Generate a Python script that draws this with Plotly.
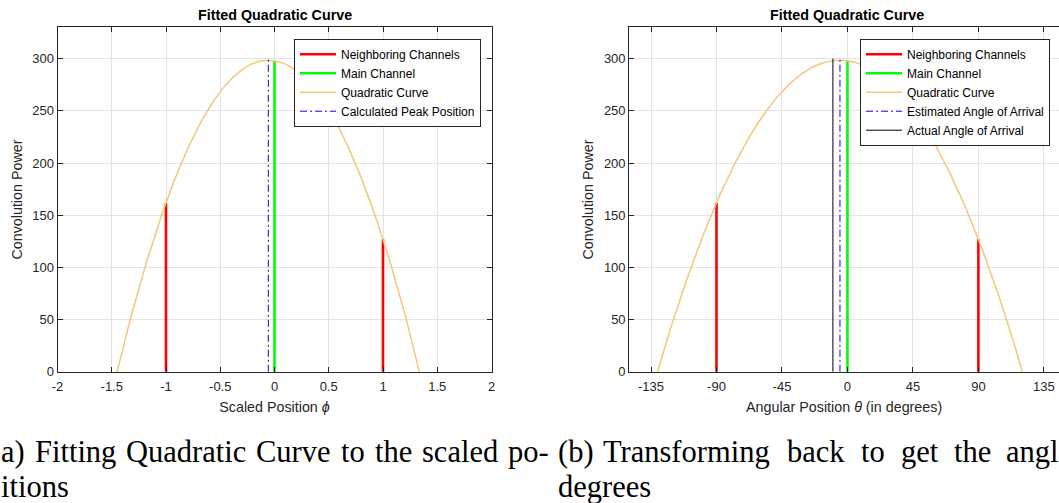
import numpy as np
import plotly.graph_objects as go

# ---- data ----
neighbor_phi = [-1, 1]
neighbor_power = [162, 127]
main_phi = [0]
main_power = [298]
marker_top = 300            # height of the peak / angle marker lines
actual_angle_deg = -10      # actual angle of arrival
deg_per_unit = 90           # scaled position -> degrees

x_ticks_a = [-2, -1.5, -1, -0.5, 0, 0.5, 1, 1.5, 2]
x_ticks_b = [-135, -90, -45, 0, 45, 90, 135]
y_ticks = [0, 50, 100, 150, 200, 250, 300]

# caption words (as visible in the reference)
caption_a1 = ["a)", "Fitting", "Quadratic", "Curve", "to", "the", "scaled", "po-"]
caption_a2 = ["itions"]
caption_b1 = ["(b)", "Transforming", "back", "to", "get", "the", "angl"]
caption_b2 = ["degrees"]
# left edges (px) for the justified caption words
caption_a1_x = [0, 33.7, 125.1, 255.4, 339.9, 373.6, 420.9, 507.1]
caption_a2_x = [0]
caption_b1_x = [557, 601.6, 785.6, 859.5, 899.5, 953.1, 1005]
caption_b2_x = [557]

# fitted quadratic through the three channel powers
pts_x = neighbor_phi[:1] + main_phi + neighbor_phi[1:]
pts_y = neighbor_power[:1] + main_power + neighbor_power[1:]
coef = np.polyfit(pts_x, pts_y, 2)
peak_phi = -coef[1] / (2 * coef[0])
curve_phi = np.linspace(-2, 2, 401)
curve_power = np.polyval(coef, curve_phi)

W, H = 1059, 503
FONT = "Liberation Sans, Arial, Helvetica, sans-serif"
AXC = "#262626"
GRID = "#e3e3e3"
RED = "#ff0000"
GREEN = "#00ff00"
CURVE = "#f4c778"
BLUE = "#0000ff"

def px(v):
    return v / W

def py(v):
    return (H - v) / H

fig = go.Figure()

def add_set(xs_scale, xa, ya, legend, peak_name, with_actual):
    nx = [v * xs_scale for v in neighbor_phi]
    fig.add_trace(go.Scatter(
        x=[nx[0], nx[0], None, nx[1], nx[1]],
        y=[0, neighbor_power[0], None, 0, neighbor_power[1]],
        mode="lines", line=dict(color=RED, width=2.6),
        name="Neighboring Channels", xaxis=xa, yaxis=ya, legend=legend))
    mx = main_phi[0] * xs_scale
    fig.add_trace(go.Scatter(
        x=[mx, mx], y=[0, main_power[0]],
        mode="lines", line=dict(color=GREEN, width=2.6),
        name="Main Channel", xaxis=xa, yaxis=ya, legend=legend))
    fig.add_trace(go.Scatter(
        x=curve_phi * xs_scale, y=curve_power,
        mode="lines", line=dict(color=CURVE, width=1.5),
        name="Quadratic Curve", xaxis=xa, yaxis=ya, legend=legend))
    pk = peak_phi * xs_scale
    fig.add_trace(go.Scatter(
        x=[pk, pk], y=[0, marker_top],
        mode="lines", line=dict(color=BLUE, width=1, dash="7px,3px,2px,3px"),
        name=peak_name, xaxis=xa, yaxis=ya, legend=legend))
    if with_actual:
        fig.add_trace(go.Scatter(
            x=[actual_angle_deg, actual_angle_deg], y=[0, marker_top],
            mode="lines", line=dict(color="#000000", width=1),
            name="Actual Angle of Arrival", xaxis=xa, yaxis=ya, legend=legend))

add_set(1, "x", "y", "legend", "Calculated Peak Position", False)
add_set(deg_per_unit, "x2", "y2", "legend2", "Estimated Angle of Arrival", True)

ydom = [py(371.8), py(27.3)]
common_ax = dict(
    showgrid=True, gridcolor=GRID, gridwidth=1,
    showline=True, linecolor=AXC, linewidth=1,
    ticks="inside", ticklen=5, tickcolor=AXC, tickwidth=1,
    zeroline=False, automargin=False,
    tickfont=dict(family=FONT, size=13, color=AXC),
)
title_font = dict(family=FONT, size=14.3, color=AXC)

fig.update_layout(
    width=W, height=H,
    margin=dict(l=0, r=0, t=0, b=0, pad=0, autoexpand=False),
    paper_bgcolor="white", plot_bgcolor="white",
    showlegend=True,
    xaxis=dict(domain=[px(57.5), px(491.5)], range=[-2, 2],
               tickvals=x_ticks_a, ticktext=[f"{v:g}" for v in x_ticks_a],
               mirror="ticks", anchor="y", ticklabelstandoff=3,
               title=dict(text="Scaled Position <i>ϕ</i>", font=title_font, standoff=8),
               **common_ax),
    yaxis=dict(domain=ydom, range=[0, 330], tickvals=y_ticks,
               mirror="ticks", anchor="x",
               title=dict(text="Convolution Power", font=title_font, standoff=6),
               **common_ax),
    xaxis2=dict(domain=[px(629.2), 1.0], range=[-150, 145.4],
                tickvals=x_ticks_b, ticktext=[str(v) for v in x_ticks_b],
                mirror="ticks", anchor="y2", ticklabelstandoff=3,
                title=dict(text="Angular Position <i>θ</i> (in degrees)", font=title_font, standoff=8),
                **common_ax),
    yaxis2=dict(domain=ydom, range=[0, 330], tickvals=y_ticks,
                mirror=False, anchor="x2",
                title=dict(text="Convolution Power", font=title_font, standoff=6),
                **common_ax),
    legend=dict(x=px(481), y=py(38.7), xanchor="right", yanchor="top",
                bgcolor="white", bordercolor=AXC, borderwidth=1,
                font=dict(family=FONT, size=12, color="#000000"), itemwidth=36),
    legend2=dict(x=px(1050), y=py(38.7), xanchor="right", yanchor="top",
                 bgcolor="white", bordercolor=AXC, borderwidth=1,
                 font=dict(family=FONT, size=12, color="#000000"), itemwidth=36),
)

# subplot titles
for cx in [(57.5 + 491.5) / 2, (629.2 + 1065.3) / 2]:
    fig.add_annotation(text="<b>Fitted Quadratic Curve</b>", x=px(cx), y=py(15),
                       xref="paper", yref="paper", xanchor="center", yanchor="middle",
                       showarrow=False, font=dict(family=FONT, size=14.3, color="#000000"))

# captions
SERIF = "Liberation Serif, Times New Roman, serif"
cap_font = dict(family=SERIF, size=30.5, color="#000000")
for words, xs, yc in [(caption_a1, caption_a1_x, 451.5), (caption_a2, caption_a2_x, 487.0),
                      (caption_b1, caption_b1_x, 451.5), (caption_b2, caption_b2_x, 487.0)]:
    for txt, x0 in zip(words, xs):
        fig.add_annotation(text=txt, x=px(x0), y=py(yc), xref="paper", yref="paper",
                           xanchor="left", yanchor="middle", showarrow=False,
                           font=cap_font, borderpad=0)

fig.write_html("out.html")
